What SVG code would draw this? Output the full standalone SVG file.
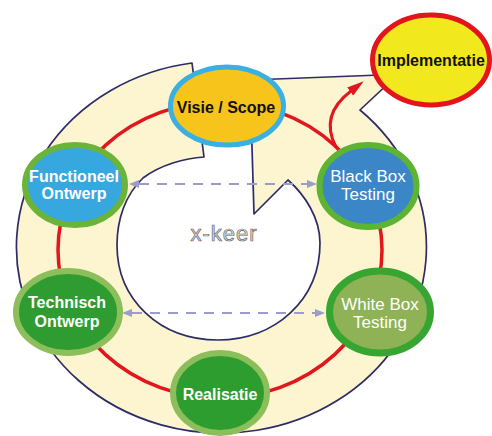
<svg xmlns="http://www.w3.org/2000/svg" width="492" height="436" viewBox="0 0 492 436">
  <style>
    .band { fill: #fcf5cf; stroke: #2c2c66; stroke-width: 1.7; stroke-linejoin: round; }
    .ring { fill: none; stroke: #e2161c; stroke-width: 3.5; }
    .dash { fill: none; stroke: #9c9ccc; stroke-width: 2; stroke-dasharray: 10 8; }
    .lbl { font-family: "Liberation Sans", Arial, sans-serif; text-anchor: middle; }
    .b { font-weight: bold; font-size: 16px; }
    .r { font-size: 17px; }
    .dark { fill: #111111; }
    .white { fill: #ffffff; }
    .keer { font-family: "Liberation Sans", Arial, sans-serif; font-size: 22px; fill: #dcdcdc; stroke: #6a6a6a; stroke-width: 0.7; letter-spacing: 1px; }
  </style>
  <defs>
    <marker id="dashHead" viewBox="0 0 10 8" refX="0" refY="4" markerWidth="10" markerHeight="8" markerUnits="userSpaceOnUse" orient="auto-start-reverse">
      <path d="M0,0 L10,4 L0,8 Z" fill="#9c9ccc"/>
    </marker>
    <marker id="redHead" viewBox="0 0 17 10" refX="1" refY="5" markerWidth="17" markerHeight="10" markerUnits="userSpaceOnUse" orient="auto">
      <path d="M0,0 L17,5 L0,10 Z" fill="#e2161c"/>
    </marker>
  </defs>

  <rect width="492" height="436" fill="#ffffff"/>

  <!-- cycle band with arrow end -->
  <path class="band" d="M192,63 A205 186 0 1 0 360,110 L392,80 L380,75 L250,80 L254,214 L288,180 C305,195 320,218 320,243 C320,300 275,340 218,340 C160,340 117,300 117,245 C117,220 125,195 143,178 C160,165 185,158 204,157 Z"/>

  <text class="keer" x="224" y="241" text-anchor="middle">x-keer</text>

  <g id="connectors">
    <ellipse class="ring" cx="220" cy="250" rx="162" ry="148"/>
    <path d="M336,147 C327,130 326,110 351,91" fill="none" stroke="#e2161c" stroke-width="3" marker-end="url(#redHead)"/>
    <path class="dash" d="M139,184 L307,184" marker-start="url(#dashHead)" marker-end="url(#dashHead)"/>
    <path class="dash" d="M132,313 L315,313" marker-start="url(#dashHead)" marker-end="url(#dashHead)"/>
  </g>

  <g id="visie">
    <ellipse cx="227" cy="106" rx="56.5" ry="39" fill="#f6c41b" stroke="#3ab0e2" stroke-width="5"/>
    <text class="lbl b dark" x="226" y="113">Visie / Scope</text>
  </g>

  <g id="implementatie">
    <ellipse cx="431" cy="60" rx="58.5" ry="45" fill="#f2e81e" stroke="#e3141b" stroke-width="5"/>
    <text class="lbl b dark" x="431" y="66">Implementatie</text>
  </g>

  <g id="functioneel">
    <ellipse cx="75" cy="185" rx="50" ry="40" fill="#37a7e0" stroke="#6cb33a" stroke-width="6"/>
    <text class="lbl b white" x="74" y="182">Functioneel</text>
    <text class="lbl b white" x="74" y="199">Ontwerp</text>
  </g>

  <g id="blackbox">
    <ellipse cx="368" cy="186" rx="48.5" ry="41" fill="#3a86c6" stroke="#5db432" stroke-width="6"/>
    <text class="lbl r white" x="368" y="182">Black Box</text>
    <text class="lbl r white" x="368" y="200">Testing</text>
  </g>

  <g id="technisch">
    <ellipse cx="68" cy="312" rx="52" ry="41" fill="#2f9c31" stroke="#8cbe5c" stroke-width="6"/>
    <text class="lbl b white" x="67" y="308">Technisch</text>
    <text class="lbl b white" x="67" y="327">Ontwerp</text>
  </g>

  <g id="whitebox">
    <ellipse cx="380" cy="312" rx="50.5" ry="41" fill="#8eb255" stroke="#36a532" stroke-width="7"/>
    <text class="lbl r white" x="380" y="310">White Box</text>
    <text class="lbl r white" x="380" y="328">Testing</text>
  </g>

  <g id="realisatie">
    <ellipse cx="220" cy="393" rx="47" ry="40" fill="#2e9d30" stroke="#8cbe5c" stroke-width="6"/>
    <text class="lbl b white" x="220" y="400">Realisatie</text>
  </g>
</svg>
